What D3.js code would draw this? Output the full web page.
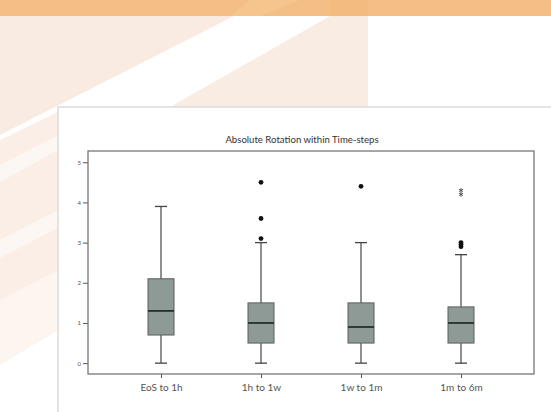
<!DOCTYPE html>
<html lang="en">
<head>
<meta charset="utf-8">
<title>Absolute Rotation within Time-steps</title>
<script src="https://d3js.org/d3.v7.min.js"></script>
<style>
  body { margin: 0; background: #fff; }
  svg { display: block; }
  .tick-lab { font-family: 'Lato', sans-serif; fill: #555; }
</style>
</head>
<body>
<script>
// box plot values
const categories = ["EoS to 1h", "1h to 1w", "1w to 1m", "1m to 6m"];
const whiskerLow = [0, 0, 0, 0];
const q1 = [0.7, 0.5, 0.5, 0.5];
const medians = [1.3, 1.0, 0.9, 1.0];
const q3 = [2.1, 1.5, 1.5, 1.4];
const whiskerHigh = [3.9, 3.0, 3.0, 2.7];
const outliers = [[], [3.1, 3.6, 4.5], [4.4], [2.9, 2.95, 3.0]];
const extremes = [[], [], [], [4.2, 4.3]];
const yTicks = [0, 1, 2, 3, 4, 5];

const W = 551, H = 412;
const svg = d3.select("body").append("svg").attr("width", W).attr("height", H);

// decorative background
const bg = svg.append("g");
bg.append("rect").attr("x", 0).attr("y", 16).attr("width", W).attr("height", H - 16).attr("fill", "#fff");
bg.append("polygon").attr("points", "0,16 234,16 0,135").attr("fill", "#f9ebe2");
bg.append("polygon").attr("points", "330,16 368,16 368,107 170,107").attr("fill", "#f9ece3");
bg.append("polygon").attr("points", "0,140 58,112 58,330 0,365").attr("fill", "#faeee6");
bg.append("polygon").attr("points", "0,165 58,135 58,150 0,182").attr("fill", "#fff").attr("opacity", 0.5);
bg.append("polygon").attr("points", "0,240 58,210 58,228 0,258").attr("fill", "#fff").attr("opacity", 0.5);
bg.append("polygon").attr("points", "0,300 58,270 58,330 0,365").attr("fill", "#fff").attr("opacity", 0.4);
bg.append("rect").attr("x", 0).attr("y", 0).attr("width", W).attr("height", 16).attr("fill", "#f4bf86");
bg.append("polygon").attr("points", "250,0 300,0 260,16 230,16").attr("fill", "#f6c892").attr("opacity", 0.6);
bg.append("polygon").attr("points", "330,0 368,0 368,16 330,16").attr("fill", "#f3b97e").attr("opacity", 0.6);

// white panel
svg.append("rect")
  .attr("x", 58).attr("y", 107).attr("width", W).attr("height", H)
  .attr("fill", "#fff").attr("stroke", "#dcdcdc").attr("stroke-width", 1.5);

const frame = { left: 88, right: 534, top: 151, bottom: 374 };

const x = d3.scalePoint().domain(categories).range([frame.left, frame.right]).padding(0.73);
const y = d3.scaleLinear().domain([-0.27, 5.28]).range([frame.bottom, frame.top]);

const boxW = 26, capW = 12;

// title
svg.append("text")
  .attr("x", 302).attr("y", 143)
  .attr("text-anchor", "middle")
  .attr("font-family", "Lato, sans-serif")
  .attr("font-size", 9.6)
  .attr("fill", "#333")
  .text("Absolute Rotation within Time-steps");

// y axis
const yAxis = svg.append("g")
  .attr("transform", `translate(${frame.left},0)`)
  .call(d3.axisLeft(y).tickValues(yTicks).tickSize(5).tickPadding(2).tickFormat(d3.format("d")));
yAxis.select(".domain").remove();
yAxis.selectAll("line").attr("stroke", "#555");
yAxis.selectAll("text").attr("class", "tick-lab").attr("font-size", 6);

// x axis
const xAxis = svg.append("g")
  .attr("transform", `translate(0,${frame.bottom})`)
  .call(d3.axisBottom(x).tickSize(4).tickPadding(6));
xAxis.select(".domain").remove();
xAxis.selectAll("line").attr("stroke", "#555");
xAxis.selectAll("text").attr("class", "tick-lab").attr("font-size", 10);

// frame
svg.append("rect")
  .attr("x", frame.left).attr("y", frame.top)
  .attr("width", frame.right - frame.left).attr("height", frame.bottom - frame.top)
  .attr("fill", "none").attr("stroke", "#777").attr("stroke-width", 1.3);

const boxes = svg.append("g").selectAll("g")
  .data(categories)
  .join("g");

// whiskers
boxes.append("line")
  .attr("x1", d => x(d)).attr("x2", d => x(d))
  .attr("y1", (d, i) => y(whiskerLow[i])).attr("y2", (d, i) => y(whiskerHigh[i]))
  .attr("stroke", "#555").attr("stroke-width", 1.3);
boxes.append("line")
  .attr("x1", d => x(d) - capW / 2).attr("x2", d => x(d) + capW / 2)
  .attr("y1", (d, i) => y(whiskerHigh[i])).attr("y2", (d, i) => y(whiskerHigh[i]))
  .attr("stroke", "#444").attr("stroke-width", 1.3);
boxes.append("line")
  .attr("x1", d => x(d) - capW / 2).attr("x2", d => x(d) + capW / 2)
  .attr("y1", (d, i) => y(whiskerLow[i])).attr("y2", (d, i) => y(whiskerLow[i]))
  .attr("stroke", "#444").attr("stroke-width", 1.3);

// box
boxes.append("rect")
  .attr("x", d => x(d) - boxW / 2)
  .attr("width", boxW)
  .attr("y", (d, i) => y(q3[i]))
  .attr("height", (d, i) => y(q1[i]) - y(q3[i]))
  .attr("fill", "#8d9a96").attr("stroke", "#5a5f5d").attr("stroke-width", 1);

// median
boxes.append("line")
  .attr("x1", d => x(d) - boxW / 2).attr("x2", d => x(d) + boxW / 2)
  .attr("y1", (d, i) => y(medians[i])).attr("y2", (d, i) => y(medians[i]))
  .attr("stroke", "#24312d").attr("stroke-width", 1.8);

// outliers
boxes.selectAll("circle")
  .data((d, i) => outliers[i].map(v => ({ cat: d, v })))
  .join("circle")
  .attr("cx", o => x(o.cat)).attr("cy", o => y(o.v))
  .attr("r", 2.4).attr("fill", "#111");

// extremes
boxes.selectAll("path.ext")
  .data((d, i) => extremes[i].map(v => ({ cat: d, v })))
  .join("path")
  .attr("class", "ext")
  .attr("transform", o => `translate(${x(o.cat)},${y(o.v)})`)
  .attr("d", d3.symbol(d3.symbolAsterisk, 14))
  .attr("fill", "none").attr("stroke", "#555").attr("stroke-width", 1);
</script>
</body>
</html>
